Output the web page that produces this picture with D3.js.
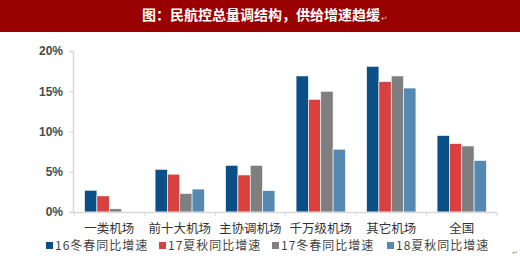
<!DOCTYPE html>
<html>
<head>
<meta charset="utf-8">
<script src="https://cdn.jsdelivr.net/npm/d3@7"></script>
<style>
  body { margin: 0; background: #fff; }
  svg { display: block; font-family: "Noto Sans CJK SC", "Noto Sans", sans-serif; }
</style>
</head>
<body>
<svg id="chart"></svg>
<script>
const categories = ["一类机场", "前十大机场", "主协调机场", "千万级机场", "其它机场", "全国"];
const seriesNames = ["16冬春同比增速", "17夏秋同比增速", "17冬春同比增速", "18夏秋同比增速"];
const s16winter = [2.7, 5.3, 5.8, 16.9, 18.1, 9.5];
const s17summer = [2.0, 4.7, 4.6, 14.0, 16.2, 8.5];
const s17winter = [0.4, 2.3, 5.8, 15.0, 16.9, 8.2];
const s18summer = [0, 2.85, 2.65, 7.8, 15.4, 6.4];
const yTicks = [0, 5, 10, 15, 20];
const colors = ["#0a4f86", "#d94040", "#7f7f7f", "#5589b2"];

const width = 520;
const height = 258;
const svg = d3.select("#chart").attr("width", width).attr("height", height);

// title banner
svg.append("rect").attr("x", 0).attr("y", 0).attr("width", width).attr("height", 32).attr("fill", "#990000");
svg.append("text")
  .attr("x", 261).attr("y", 20)
  .attr("text-anchor", "middle")
  .attr("fill", "#fff")
  .attr("font-size", 14)
  .attr("font-weight", "bold")
  .text("图：民航控总量调结构，供给增速趋缓");
svg.append("text").attr("x", 381).attr("y", 21).attr("fill", "#bbb").attr("font-size", 8).text("↵");

const series = [s16winter, s17summer, s17winter, s18summer];
const data = categories.map((c, i) => ({ cat: c, vals: series.map((s) => s[i]) }));

const xScale = d3.scaleBand().domain(categories).range([74, 497]).paddingInner(0.3).paddingOuter(0.15);
const inner = d3.scaleBand().domain(d3.range(4)).range([0, xScale.bandwidth()]);
const yScale = d3.scaleLinear().domain([0, 20]).range([212, 51]);

// y axis
const yAxis = d3.axisLeft(yScale).tickValues(yTicks).tickFormat((d) => d + "%").tickSize(4).tickPadding(6);
const gy = svg.append("g").attr("transform", "translate(73,0)").call(yAxis);
gy.select(".domain").attr("stroke", "#d9d9d9").attr("stroke-width", 1.5);
gy.selectAll(".tick line").attr("stroke", "#d9d9d9");
gy.selectAll("text").attr("font-size", 12).attr("fill", "#4a4a4a").attr("font-family", "Liberation Sans, Arial, sans-serif").attr("font-weight", "bold");

// bars
const groups = svg.selectAll(".grp").data(data).enter().append("g")
  .attr("transform", (d) => "translate(" + xScale(d.cat) + ",0)");
groups.selectAll("rect").data((d) => d.vals.map((v, k) => ({ v: v, k: k }))).enter().append("rect")
  .filter((d) => d.v > 0)
  .attr("x", (d) => inner(d.k))
  .attr("y", (d) => yScale(d.v))
  .attr("width", inner.bandwidth())
  .attr("height", (d) => yScale(0) - yScale(d.v))
  .attr("fill", (d) => colors[d.k])
  .attr("stroke", "#fff")
  .attr("stroke-width", 0.6);

// x axis
const x0 = 74.5;
svg.append("line").attr("x1", 73).attr("x2", 497).attr("y1", 212.5).attr("y2", 212.5).attr("stroke", "#d9d9d9").attr("stroke-width", 1.5);
svg.selectAll(".xt").data(d3.range(7)).enter().append("line")
  .attr("x1", (i) => x0 + i * (422.5 / 6)).attr("x2", (i) => x0 + i * (422.5 / 6))
  .attr("y1", 212).attr("y2", 216).attr("stroke", "#d9d9d9");

svg.selectAll(".xl").data(categories).enter().append("text")
  .attr("x", (d) => xScale(d) + xScale.bandwidth() / 2)
  .attr("y", 233)
  .attr("text-anchor", "middle")
  .attr("font-size", 12.5)
  .attr("fill", "#333")
  .text((d) => d);

// legend
const legendX = [46, 159, 272, 387];
const lg = svg.selectAll(".lg").data(seriesNames).enter().append("g")
  .attr("transform", (d, i) => "translate(" + legendX[i] + ",242)");
lg.append("rect").attr("width", 7).attr("height", 7).attr("fill", (d, i) => colors[i]);
lg.append("text").attr("x", 9).attr("y", 8).attr("font-size", 12).attr("letter-spacing", 1).attr("fill", "#444").text((d) => d);

svg.append("text").attr("x", 512).attr("y", 255).attr("fill", "#999").attr("font-size", 7).text("↵");
</script>
</body>
</html>
